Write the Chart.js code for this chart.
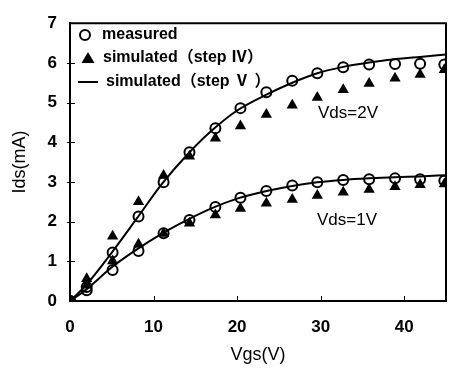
<!DOCTYPE html>
<html>
<head>
<meta charset="utf-8">
<script src="https://cdn.jsdelivr.net/npm/chart.js@4.4.0/dist/chart.umd.min.js"></script>
<style>
  html, body { margin: 0; padding: 0; background: #fff; }
  #wrap { width: 453px; height: 369px; }
</style>
</head>
<body>
<div id="wrap"><canvas id="grafico"></canvas></div>
<script>
// Vgs (V) de los puntos
const vgs = [0, 2, 5.1, 8.2, 11.2, 14.3, 17.4, 20.4, 23.5, 26.6, 29.6, 32.7, 35.8, 38.9, 41.9, 44.8];

// medidos (circulos)
const medido2V = [0, 0.35, 1.22, 2.13, 2.99, 3.75, 4.35, 4.86, 5.26, 5.55, 5.74, 5.89, 5.96, 5.97, 5.98, 5.96];
const medido1V = [0, 0.27, 0.78, 1.26, 1.71, 2.04, 2.37, 2.60, 2.77, 2.91, 2.99, 3.05, 3.07, 3.09, 3.07, 3.03];

// simulado paso IV (triangulos)
const simIV2V = [0, 0.56, 1.63, 2.50, 3.16, 3.65, 4.10, 4.41, 4.70, 4.93, 5.13, 5.32, 5.48, 5.61, 5.71, 5.83];
const simIV1V = [0, 0.40, 1.01, 1.43, 1.70, 1.96, 2.17, 2.33, 2.46, 2.56, 2.66, 2.74, 2.81, 2.88, 2.93, 2.95];

// simulado paso V (linea continua)
const lineaX = [0, 2, 5, 8, 11, 14, 17, 20, 23.5, 26.6, 29.6, 32.7, 35.8, 38.9, 41.9, 45];
const simV2V = [0, 0.42, 1.22, 2.08, 2.95, 3.68, 4.30, 4.80, 5.20, 5.50, 5.74, 5.90, 6.01, 6.09, 6.15, 6.21];
const simV1V = [0, 0.30, 0.85, 1.30, 1.70, 2.04, 2.34, 2.58, 2.77, 2.90, 2.99, 3.05, 3.09, 3.12, 3.14, 3.17];

const xTicks = [0, 10, 20, 30, 40];

function pares(xs, ys) {
  return xs.map((x, i) => ({x: x, y: ys[i]}));
}

const fuente = "'Liberation Sans', 'Noto Sans CJK JP', sans-serif";

// leyenda, textos y marcas hacia adentro
const extras = {
  id: 'extras',
  afterDraw(chart) {
    const ctx = chart.ctx;
    const a = chart.chartArea;
    const xs = chart.scales.x;
    const ys = chart.scales.y;
    ctx.save();
    ctx.strokeStyle = '#000';
    ctx.fillStyle = '#000';

    // marco superior y derecho
    ctx.lineWidth = 2;
    ctx.beginPath();
    ctx.moveTo(a.left, a.top);
    ctx.lineTo(a.right, a.top);
    ctx.lineTo(a.right, a.bottom);
    ctx.stroke();

    // marcas
    ctx.lineWidth = 1;
    xTicks.forEach(v => {
      const px = Math.round(xs.getPixelForValue(v)) + 0.5;
      ctx.beginPath();
      ctx.moveTo(px, a.bottom);
      ctx.lineTo(px, a.bottom - 5);
      ctx.stroke();
    });
    for (let v = 1; v < 7; v++) {
      const py = Math.round(ys.getPixelForValue(v)) + 0.5;
      ctx.beginPath();
      ctx.moveTo(a.left - 3, py);
      ctx.lineTo(a.left + 5, py);
      ctx.stroke();
    }

    // leyenda
    ctx.font = 'bold 16px ' + fuente;
    ctx.textBaseline = 'middle';
    ctx.textAlign = 'left';
    ctx.lineWidth = 2;
    ctx.beginPath();
    ctx.arc(85, 35, 5, 0, Math.PI * 2);
    ctx.stroke();
    ctx.fillText('measured', 102, 35);

    ctx.beginPath();
    ctx.moveTo(88, 52);
    ctx.lineTo(94.5, 63);
    ctx.lineTo(81.5, 63);
    ctx.closePath();
    ctx.fill();
    ctx.fillText('simulated（step Ⅳ）', 103, 58);

    ctx.beginPath();
    ctx.moveTo(78, 82);
    ctx.lineTo(98, 82);
    ctx.stroke();
    ctx.fillText('simulated（step Ⅴ ）', 106, 82);

    // anotaciones
    ctx.font = '17px ' + fuente;
    ctx.fillText('Vds=2V', 318, 113);
    ctx.fillText('Vds=1V', 317, 220);
    ctx.restore();
  }
};

const circulo = {
  showLine: false,
  pointStyle: 'circle',
  pointRadius: 5,
  pointBorderWidth: 2,
  pointBorderColor: '#000',
  pointBackgroundColor: 'rgba(0,0,0,0)'
};
const triangulo = {
  showLine: false,
  pointStyle: 'triangle',
  pointRadius: 6.5,
  pointBorderWidth: 0,
  pointBorderColor: '#000',
  pointBackgroundColor: '#000'
};
const linea = {
  showLine: true,
  pointRadius: 0,
  borderColor: '#000',
  borderWidth: 2,
  cubicInterpolationMode: 'monotone'
};

new Chart(document.getElementById('grafico'), {
  type: 'scatter',
  data: {
    datasets: [
      Object.assign({label: 'simulated (step IV) 2V', data: pares(vgs, simIV2V)}, triangulo),
      Object.assign({label: 'simulated (step IV) 1V', data: pares(vgs, simIV1V)}, triangulo),
      Object.assign({label: 'simulated (step V) 2V', data: pares(lineaX, simV2V)}, linea),
      Object.assign({label: 'simulated (step V) 1V', data: pares(lineaX, simV1V)}, linea),
      Object.assign({label: 'measured 2V', data: pares(vgs, medido2V)}, circulo),
      Object.assign({label: 'measured 1V', data: pares(vgs, medido1V)}, circulo)
    ]
  },
  options: {
    responsive: true,
    maintainAspectRatio: false,
    animation: false,
    layout: { padding: { top: 18, right: 1, left: 0, bottom: 0 } },
    plugins: {
      legend: { display: false },
      tooltip: { enabled: false }
    },
    scales: {
      x: {
        type: 'linear',
        min: 0,
        max: 45,
        afterBuildTicks: s => { s.ticks = xTicks.map(v => ({value: v})); },
        afterFit: s => { s.height = 68; },
        grid: { drawOnChartArea: false, drawTicks: false },
        border: { display: true, color: '#000', width: 2 },
        ticks: { color: '#000', padding: 16, font: { family: fuente, size: 17, weight: 'bold' } },
        title: { display: true, text: 'Vgs(V)', color: '#000', padding: { top: 0, bottom: 3 },
                 font: { family: fuente, size: 18 } }
      },
      y: {
        min: 0,
        max: 7,
        afterFit: s => { s.width = 70; },
        grid: { drawOnChartArea: false, drawTicks: false },
        border: { display: true, color: '#000', width: 2 },
        ticks: { stepSize: 1, color: '#000', padding: 13, font: { family: fuente, size: 17, weight: 'bold' } },
        title: { display: true, text: 'Ids(mA)', color: '#000', padding: { top: 9, bottom: 0 },
                 font: { family: fuente, size: 18 } }
      }
    }
  },
  plugins: [extras]
});
</script>
</body>
</html>
